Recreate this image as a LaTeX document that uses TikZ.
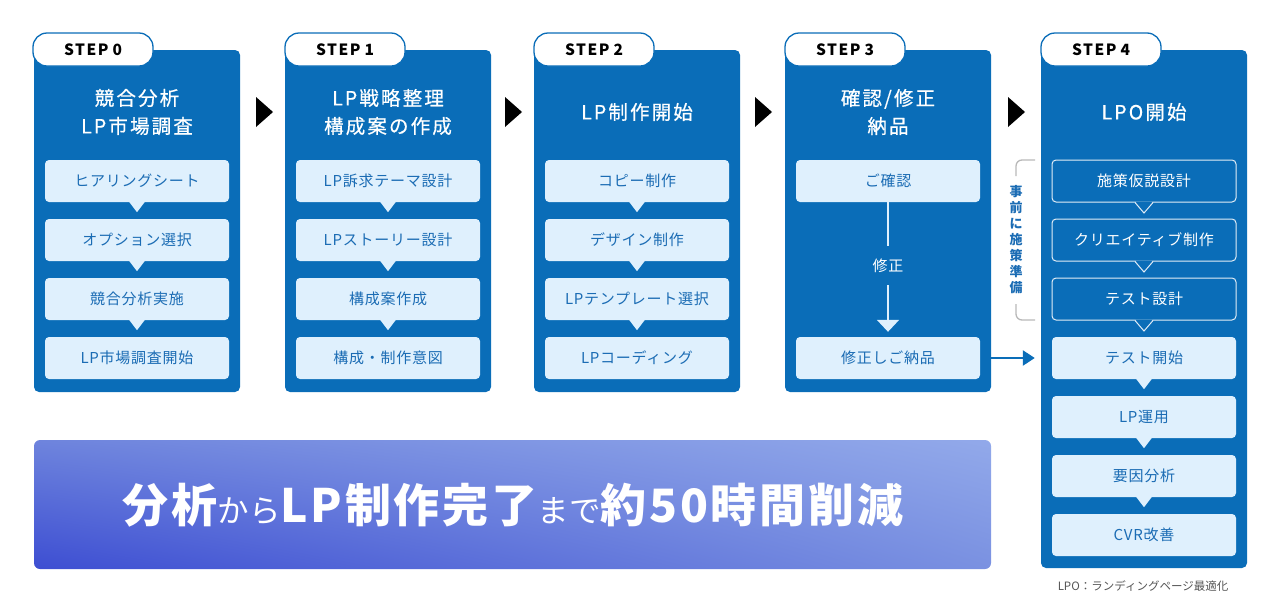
\documentclass[tikz,border=0pt]{standalone}
\usepackage{fontspec}
\setmainfont{Noto Sans CJK JP}
\newfontfamily\spfont{Noto Sans CJK JP}[LetterSpace=6]
\newfontfamily\ttlfont{Noto Sans CJK JP}[LetterSpace=11, FakeBold=0.6]
\newfontfamily\boxfont{Noto Sans CJK JP}[LetterSpace=5]
\newfontfamily\tabfont{Noto Sans CJK JP}[LetterSpace=10]
\usetikzlibrary{calc,arrows.meta,shadings}
\definecolor{colblue}{HTML}{0A6DB8}
\definecolor{lightbox}{HTML}{DFF0FD}
\definecolor{textblue}{HTML}{1B6CB4}
\definecolor{brk}{HTML}{B8B8B8}
\definecolor{notegray}{HTML}{555555}
\definecolor{bnA}{HTML}{3D4ED2}
\definecolor{bnB}{HTML}{6E84DD}
\definecolor{bnC}{HTML}{7A91E1}
\definecolor{bnD}{HTML}{92A9EA}
\tikzset{
  col/.style={fill=colblue, rounded corners=5pt, minimum width=206pt, inner sep=0pt},
  tab/.style={fill=white, draw=colblue, line width=1.3pt, rounded corners=14pt, minimum width=120pt, minimum height=33pt, inner sep=0pt, font=\tabfont\bfseries\fontsize{15.5}{15.5}\selectfont},
  ttl/.style={text=white, align=center, font=\ttlfont\fontsize{19.5}{28}\selectfont},
  ibox/.style={fill=lightbox, rounded corners=4pt, minimum width=184pt, minimum height=42pt, inner sep=0pt, text=textblue, font=\boxfont\fontsize{15}{15}\selectfont},
  obox/.style={fill=colblue, draw=white!88!colblue, line width=1pt, rounded corners=4pt, minimum width=184pt, minimum height=42pt, inner sep=0pt, text=white, font=\boxfont\fontsize{15}{15}\selectfont},
  steparrow/.style={fill=black},
}
\newcommand\ptr[1]{\fill[lightbox] ($(#1.south)+(-8,-0.5)$) -- ($(#1.south)+(8,-0.5)$) -- ($(#1.south)+(0,10)$) -- cycle;}
\newcommand\optr[1]{\fill[colblue] ($(#1.south)+(-8.5,-1)$) -- ($(#1.south)+(8.5,-1)$) -- ($(#1.south)+(0,10.5)$) -- cycle;
  \draw[white!88!colblue, line width=1pt, line join=miter] ($(#1.south)+(-9,0)$) -- ($(#1.south)+(0,10.5)$) -- ($(#1.south)+(9,0)$);}
\newcommand\steplabel[1]{STEP\hspace{4pt}#1}
\begin{document}
\begin{tikzpicture}[x=1pt,y=-1pt]
\useasboundingbox (0,0) rectangle (1280,603);
% columns
\node[col, minimum height=342pt] (c0) at (137,221) {};
\node[col, minimum height=342pt] (c1) at (388,221) {};
\node[col, minimum height=342pt] (c2) at (637,221) {};
\node[col, minimum height=342pt] (c3) at (888,221) {};
\node[col, minimum height=518pt] (c4) at (1144,309) {};
% tabs
\node[tab] (t0) at (93,49.5) {\steplabel{0}};
\node[tab] (t1) at (345,49.5) {\steplabel{1}};
\node[tab] (t2) at (594,49.5) {\steplabel{2}};
\node[tab] (t3) at (845,49.5) {\steplabel{3}};
\node[tab] (t4) at (1101,49.5) {\steplabel{4}};
% titles
\node[ttl] (h0) at (137,112) {競合分析\\LP市場調査};
\node[ttl] (h1) at (388,112) {LP戦略整理\\構成案の作成};
\node[ttl] (h2) at (637,112) {LP制作開始};
\node[ttl] (h3) at (888,112) {確認/修正\\納品};
\node[ttl] (h4) at (1144,112) {LPO開始};
% step arrows
\fill[steparrow] (256,97) -- (273,112) -- (256,127) -- cycle;
\fill[steparrow] (505,97) -- (522,112) -- (505,127) -- cycle;
\fill[steparrow] (755,97) -- (772,112) -- (755,127) -- cycle;
\fill[steparrow] (1008,97) -- (1025,112) -- (1008,127) -- cycle;
% column 0
\node[ibox] (b00) at (137,181) {ヒアリングシート};
\node[ibox] (b01) at (137,240) {オプション選択};
\node[ibox] (b02) at (137,299) {競合分析実施};
\node[ibox] (b03) at (137,358) {LP市場調査開始};
\ptr{b00}\ptr{b01}\ptr{b02}
% column 1
\node[ibox] (b10) at (388,181) {LP訴求テーマ設計};
\node[ibox] (b11) at (388,240) {LPストーリー設計};
\node[ibox] (b12) at (388,299) {構成案作成};
\node[ibox] (b13) at (388,358) {構成・制作意図};
\ptr{b10}\ptr{b11}\ptr{b12}
% column 2
\node[ibox] (b20) at (637,181) {コピー制作};
\node[ibox] (b21) at (637,240) {デザイン制作};
\node[ibox] (b22) at (637,299) {LPテンプレート選択};
\node[ibox] (b23) at (637,358) {LPコーディング};
\ptr{b20}\ptr{b21}\ptr{b22}
% column 3
\node[ibox] (b30) at (888,181) {ご確認};
\node[ibox] (b31) at (888,358) {修正しご納品};
\node[text=white, font=\boxfont\fontsize{15}{15}\selectfont, inner xsep=2pt, inner ysep=0pt, minimum height=39pt] (fix) at (888,265.5) {修正};
\draw[lightbox, line width=2pt] (b30.south) -- (fix.north);
\draw[lightbox, line width=2pt, -{Triangle[length=12pt,width=22pt]}, shorten >=5pt] (fix.south) -- (b31.north);
% column 4
\node[obox] (b40) at (1144,181) {施策仮説設計};
\node[obox] (b41) at (1144,240) {クリエイティブ制作};
\node[obox] (b42) at (1144,299) {テスト設計};
\node[ibox] (b43) at (1144,358) {テスト開始};
\node[ibox] (b44) at (1144,417) {LP運用};
\node[ibox] (b45) at (1144,476) {要因分析};
\node[ibox] (b46) at (1144,535) {CVR改善};
\optr{b40}\optr{b41}\optr{b42}
\ptr{b43}\ptr{b44}\ptr{b45}
% connector column 3 -> column 4
\coordinate (a3s) at (c3.east |- b31.center);
\coordinate (a3e) at (c4.west |- b31.center);
\draw[colblue, line width=2.5pt, -{Triangle[length=12pt,width=15pt]}, shorten >=6pt] (a3s) -- (a3e);
% bracket
\node[text=textblue, align=center, font=\bfseries\fontsize{13}{16}\selectfont, inner sep=0pt] (prep) at (1016,240) {事\\前\\に\\施\\策\\準\\備};
\draw[brk, line width=1.3pt, rounded corners=6pt] (1035,160) -- (1016,160) -- (1016,176);
\draw[brk, line width=1.3pt, rounded corners=6pt] (1016,304) -- (1016,320) -- (1035,320);
% banner
\shade[rounded corners=6pt, lower left=bnA, upper left=bnB, lower right=bnC, upper right=bnD] (34,440) rectangle (991,569);
\node[text=white, inner sep=0pt] (banner) at (513,505) {{\bfseries\spfont\fontsize{46}{46}\selectfont 分析}{\fontsize{31.5}{31.5}\selectfont から}{\bfseries\spfont\fontsize{46}{46}\selectfont LP制作完了}{\fontsize{31.5}{31.5}\selectfont まで}{\bfseries\spfont\fontsize{46}{46}\selectfont 約50時間削減}};
% footnote
\node[text=notegray, font=\fontsize{11.5}{11.5}\selectfont, inner sep=0pt] (note) at (1143,586) {LPO：ランディングページ最適化};
\end{tikzpicture}
\end{document}
